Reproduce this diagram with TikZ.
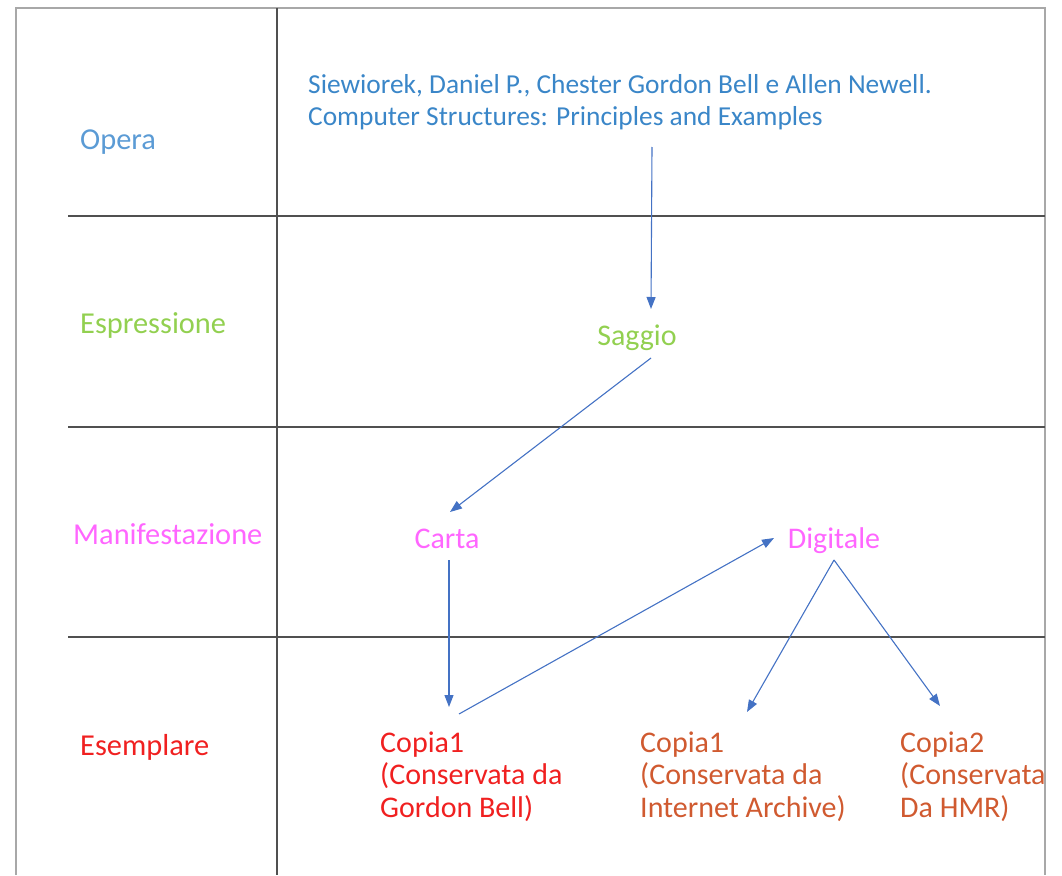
\documentclass[tikz,border=0pt]{standalone}
\usepackage{fontspec}
\setmainfont{Carlito}
\usetikzlibrary{arrows.meta,calc}
\definecolor{arrowblue}{HTML}{4472C4}
\definecolor{operablue}{HTML}{5B9BD5}
\definecolor{authorblue}{HTML}{3A86C8}
\definecolor{espgreen}{HTML}{92D050}
\definecolor{manpink}{HTML}{FF66FF}
\definecolor{esred}{HTML}{F02020}
\definecolor{esorange}{HTML}{D05A30}
\definecolor{gridgray}{HTML}{505050}
\definecolor{bordergray}{HTML}{A8A8A8}
\newcommand{\textlines}[1]{\begin{tabular}[t]{@{}l@{}}#1\end{tabular}}
\tikzset{
  lbl/.style={inner sep=0pt, anchor=base west, font=\fontsize{30.4}{32.5}\selectfont},
  itm/.style={inner sep=0pt, font=\fontsize{30}{32.5}\selectfont},
  auth/.style={inner sep=0pt, anchor=base west, font=\fontsize{27.4}{32}\selectfont, text=authorblue},
  conn/.style={draw=arrowblue, line width=1.1pt, -{Triangle[length=12pt,width=9pt]}},
  gridline/.style={draw=gridgray, line width=1.4pt},
  borderline/.style={draw=bordergray, line width=1.4pt}
}
\begin{document}
\begin{tikzpicture}[x=1pt,y=-1pt]
\useasboundingbox (0,0) rectangle (1062,875);
% grid
\draw[borderline] (16,875) -- (16,8) -- (1045,8) -- (1045,875);
\draw[gridline] (277,8) -- (277,875);
\draw[gridline] (68,216) -- (1045,216);
\draw[gridline] (68,427) -- (1045,427);
\draw[gridline] (68,637) -- (1045,637);
% row labels
\node[lbl, text=operablue] (lopera) at (80,149) {Opera};
\node[lbl, text=espgreen] (lesp) at (80,333) {Espressione};
\node[lbl, text=manpink] (lman) at (73,544) {Manifestazione};
\node[lbl, text=esred] (lese) at (80,755) {Esemplare};
% items
\node[auth] (author) at (308,93) {\textlines{Siewiorek, Daniel P., Chester Gordon Bell e Allen Newell.\\Computer Structures: Principles and Examples}};
\node[itm, anchor=base, text=espgreen] (saggio) at (637,345) {Saggio};
\node[itm, anchor=base, text=manpink] (carta) at (447,548) {Carta};
\node[itm, anchor=base, text=manpink] (digitale) at (834,548) {Digitale};
\node[itm, anchor=base west, text=esred] (copiagb) at (380,752) {\textlines{Copia1\\(Conservata da\\Gordon Bell)}};
\node[itm, anchor=base west, text=esorange] (copiaia) at (640,752) {\textlines{Copia1\\(Conservata da\\Internet Archive)}};
\node[itm, anchor=base west, text=esorange] (copiahmr) at (900,752) {\textlines{Copia2\\(Conservata\\Da HMR)}};
% connectors
\draw[conn] ($(author.base west)+(344,54)$) -- ($(saggio.base)+(14,-36)$);
\draw[conn] ($(saggio.base)+(14,13)$) -- ($(carta.base)+(3,-36)$);
\draw[conn] ($(carta.base)+(2,12)$) -- ($(copiagb.base west)+(69,-45)$);
\draw[conn] ($(copiagb.base west)+(79,-38)$) -- ($(digitale.base)+(-60,-10)$);
\draw[conn] ($(digitale.base)+(0,12)$) -- ($(copiaia.base west)+(107,-40)$);
\draw[conn] ($(digitale.base)+(0,12)$) -- ($(copiahmr.base west)+(40,-46)$);
\end{tikzpicture}
\end{document}
